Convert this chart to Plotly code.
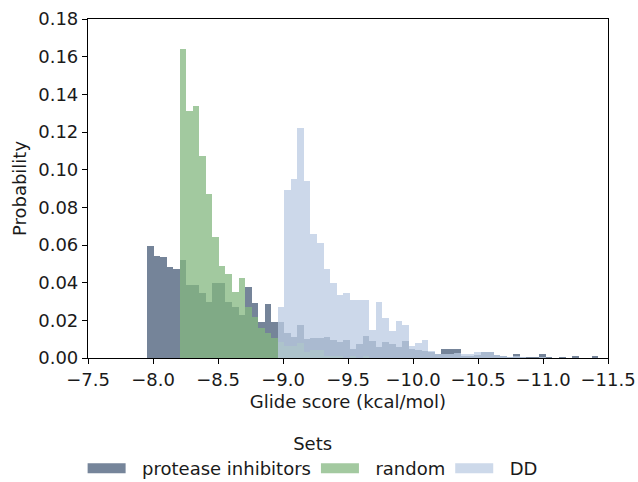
import plotly.graph_objects as go

# Histogram bin grid (Glide score, kcal/mol); bins run from BIN_START towards more negative scores
BIN_START = -7.954
BIN_WIDTH = 0.0503

series_names = ["protease inhibitors", "random", "DD"]

protease_inhibitors = [
    0.0594, 0.0544, 0.0536, 0.0484, 0.0475, 0.0518, 0.0385, 0.0385, 0.0345, 0.0297,
    0.0396, 0.0396, 0.0300, 0.0270, 0.0230, 0.0375, 0.0290, 0.0190, 0.0288, 0.0190,
    0.0192, 0.0135, 0.0110, 0.0176, 0.0100, 0.0105, 0.0105, 0.0110, 0.0093, 0.0083,
    0.0097, 0.0048, 0.0076, 0.0118, 0.0088, 0.0058, 0.0083, 0.0076, 0.0058, 0.0088,
    0.0048, 0.0044, 0.0035, 0.0030, 0.0020, 0.0046, 0.0046, 0.0046, 0.0010, 0.0010,
    0.0015, 0.0030, 0.0030, 0.0015, 0.0010, 0.0005, 0.0020, 0.0005, 0.0005, 0.0005,
    0.0020, 0.0005, 0.0000, 0.0005, 0.0000, 0.0010, 0.0000, 0.0000, 0.0010,
]

random_set = [
    0.0, 0.0, 0.0, 0.0, 0.0, 0.1640, 0.1310, 0.1340, 0.1070, 0.0873,
    0.0644, 0.0486, 0.0445, 0.0350, 0.0424, 0.0270, 0.0220, 0.0160, 0.0133, 0.0105,
    0.0085, 0.0065, 0.0065, 0.0080, 0.0030, 0.0040, 0.0040, 0.0010, 0.0010, 0.0010,
    0.0000, 0.0010, 0.0000, 0.0010,
]

dd_set = [
    0.0, 0.0, 0.0, 0.0, 0.0, 0.0, 0.0, 0.0, 0.0, 0.0,
    0.0, 0.0, 0.0, 0.0, 0.0, 0.0, 0.0, 0.0, 0.0, 0.0,
    0.0270, 0.0890, 0.0950, 0.1220, 0.0940, 0.0660, 0.0610, 0.0470, 0.0400, 0.0335,
    0.0345, 0.0310, 0.0310, 0.0310, 0.0148, 0.0297, 0.0210, 0.0146, 0.0196, 0.0174,
    0.0066, 0.0080, 0.0097, 0.0035, 0.0020, 0.0020, 0.0020, 0.0025, 0.0020, 0.0020,
    0.0032, 0.0032, 0.0032, 0.0015, 0.0010, 0.0005, 0.0010, 0.0005, 0.0000, 0.0000,
    0.0005,
]

x_ticks = [-7.5, -8.0, -8.5, -9.0, -9.5, -10.0, -10.5, -11.0, -11.5]
y_ticks = [0.00, 0.02, 0.04, 0.06, 0.08, 0.10, 0.12, 0.14, 0.16, 0.18]

colors = ["#485c78", "#84b780", "#bccce3"]
ALPHA = 0.75
FONT = "DejaVu Sans"
FS = 18
TXT = "#1a1a1a"
NBSP = "\u00a0\u00a0"


def centers(n):
    return [BIN_START - BIN_WIDTH * (k + 0.5) for k in range(n)]


fig = go.Figure()
for name, vals, col in zip(series_names, [protease_inhibitors, random_set, dd_set], colors):
    fig.add_trace(go.Bar(
        x=centers(len(vals)), y=vals, width=BIN_WIDTH,
        marker=dict(color=col, line=dict(width=0)),
        opacity=ALPHA, name=name, showlegend=False,
    ))
# legend entries drawn as wide patches
for name, col in zip(series_names, colors):
    fig.add_trace(go.Scatter(
        x=[None], y=[None], mode="lines", name=NBSP + name,
        line=dict(color=col, width=13), opacity=ALPHA,
    ))

axis_common = dict(
    showline=True, linecolor="black", linewidth=1.2, mirror=True,
    ticks="outside", ticklen=5, tickwidth=1.2, tickcolor="black",
    showgrid=False, zeroline=False, automargin=False,
    tickfont=dict(family=FONT, size=FS, color=TXT),
)

fig.update_layout(
    barmode="overlay", bargap=0,
    width=638, height=482,
    margin=dict(l=88, r=30, t=19, b=124),
    paper_bgcolor="white", plot_bgcolor="white",
    font=dict(family=FONT, size=FS, color=TXT),
    xaxis=dict(
        range=[-7.5, -11.5], tickvals=x_ticks, tickformat=".1f",
        title=dict(text="Glide score (kcal/mol)", font=dict(family=FONT, size=FS, color=TXT), standoff=6),
        **axis_common,
    ),
    yaxis=dict(
        range=[0, 0.18], tickvals=y_ticks, tickformat=".2f",
        title=dict(text="Probability", font=dict(family=FONT, size=FS, color=TXT), standoff=6),
        **axis_common,
    ),
    legend=dict(
        orientation="h", xref="container", yref="container",
        x=0.49, xanchor="center", y=0.115, yanchor="top",
        title=dict(text="Sets", side="top center", font=dict(family=FONT, size=FS, color=TXT)),
        font=dict(family=FONT, size=FS, color=TXT),
        itemwidth=38, bgcolor="rgba(0,0,0,0)",
    ),
)

fig.write_html("out.html", config={"displayModeBar": False},
               post_script="document.body.style.margin='0';")
